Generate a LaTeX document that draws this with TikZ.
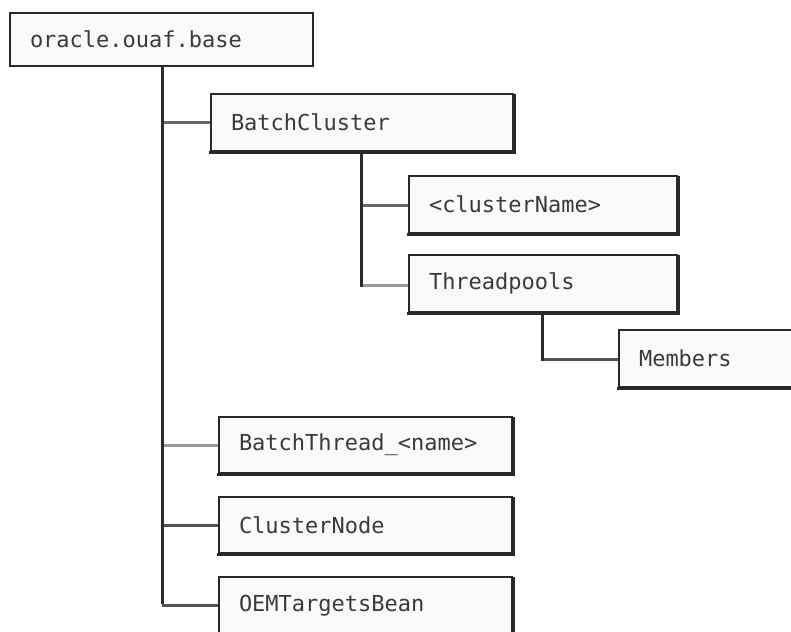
\documentclass[tikz,border=0pt]{standalone}
\usepackage{fontspec}
\setmainfont{DejaVu Sans Mono}
\definecolor{boxline}{HTML}{2B2928}
\definecolor{boxfill}{HTML}{FBFAF8}
\definecolor{txt}{HTML}{3A3A3A}
\definecolor{trunk}{HTML}{2E2C2B}
\definecolor{brdark}{HTML}{555351}
\definecolor{brmid}{HTML}{6A6866}
\definecolor{brlight}{HTML}{9A9896}
\tikzset{
  box/.style={draw=boxline, fill=boxfill, line width=2pt, rectangle,
    anchor=north west, inner xsep=20pt, inner ysep=0pt, align=left,
    text=txt, font=\fontsize{22}{26}\selectfont},
  shadowline/.style={draw=boxline, line width=3.2pt, line cap=butt, line join=miter},
  trunkline/.style={draw=trunk, line width=3pt},
  branch/.style={line width=3pt}
}
\begin{document}
\begin{tikzpicture}[x=1pt,y=-1pt]
\useasboundingbox (0,0) rectangle (791,631);
\clip (0,0) rectangle (791,631);

\node[box, text width=263pt, minimum height=53pt] (root) at (9,12) {oracle.ouaf.base};
\node[box, text width=262pt, minimum height=57pt] (bc) at (210,93) {BatchCluster};
\node[box, text width=228pt, minimum height=57pt] (cn) at (408,175) {<clusterName>};
\node[box, text width=228pt, minimum height=57pt] (tp) at (408,254) {Threadpools};
\node[box, text width=180pt, minimum height=57pt] (mem) at (618,329) {Members};
\node[box, text width=253pt, minimum height=56pt] (bt) at (218,416) {BatchThread\_<name>};
\node[box, text width=253pt, minimum height=56pt] (cln) at (218,496) {ClusterNode};
\node[box, text width=253pt, minimum height=57pt] (oem) at (218,576) {OEMTargetsBean};

% thicker bottom and right edges
\foreach \n in {bc,cn,tp,mem,bt,cln,oem}{
  \draw[shadowline] ([xshift=-1pt,yshift=-0.6pt]\n.south west) -- ([xshift=0.6pt,yshift=-0.6pt]\n.south east)
    -- ([xshift=0.6pt,yshift=-1pt]\n.north east);
}

\coordinate (t0) at (162,66);
\coordinate (t1) at (361,152);
\coordinate (t2) at (542,314);

% branches
\draw[branch, draw=brmid] (bc.west -| t0) -- (bc.west);
\draw[branch, draw=brlight] (bt.west -| t0) -- (bt.west);
\draw[branch, draw=brdark] (cln.west -| t0) -- (cln.west);
\draw[branch, draw=brdark] (oem.west -| t0) -- (oem.west);
\draw[branch, draw=brmid] ([yshift=-1pt]cn.west -| t1) -- ([yshift=-1pt]cn.west);
\draw[branch, draw=brlight] ([yshift=-2pt]tp.west -| t1) -- ([yshift=-2pt]tp.west);
\draw[branch, draw=brdark] ([yshift=-1pt]mem.west -| t2) -- ([yshift=-1pt]mem.west);

% trunks
\draw[trunkline] (t0) -- ([yshift=1.5pt]oem.west -| t0);
\draw[trunkline] (t1) -- ([yshift=-3.5pt]tp.west -| t1);
\draw[trunkline] (t2) -- ([yshift=-2.5pt]mem.west -| t2);
\end{tikzpicture}
\end{document}
